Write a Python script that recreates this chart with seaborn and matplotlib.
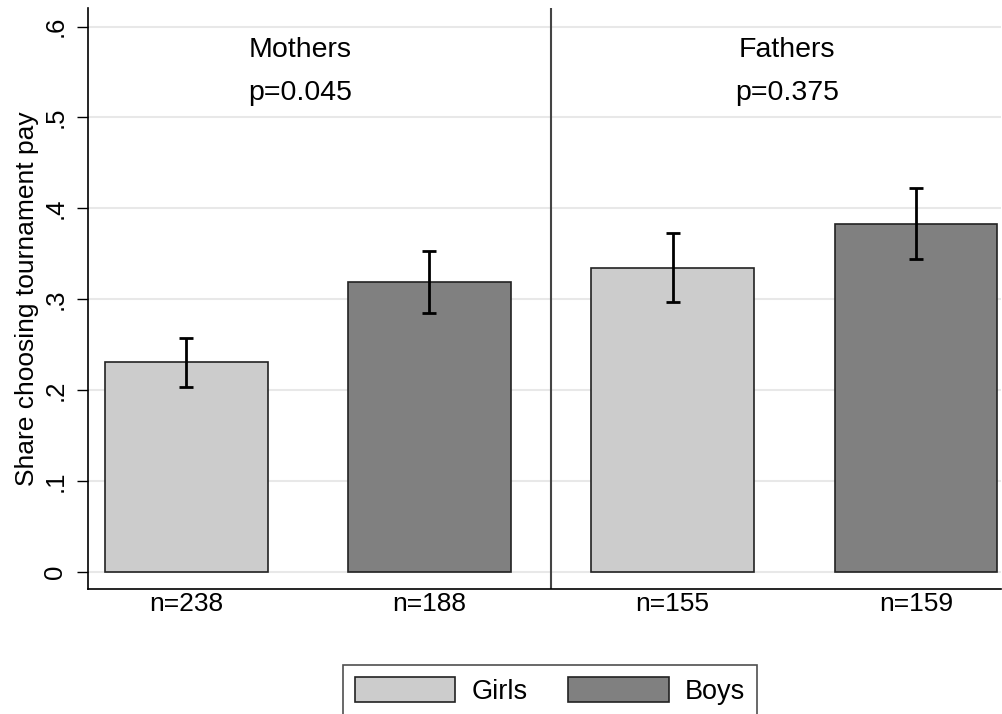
import numpy as np
import pandas as pd
import seaborn as sns
import matplotlib.pyplot as plt
from matplotlib.patches import Patch

# ---

# DATA

labels = ["n=238", "n=188", "n=155", "n=159"]
parent = ["Mothers", "Mothers", "Fathers", "Fathers"]
child = ["Girls", "Boys", "Girls", "Boys"]
share = [0.231, 0.319, 0.335, 0.383]
ci_low = [0.204, 0.285, 0.297, 0.344]
ci_high = [0.258, 0.353, 0.373, 0.422]
groups = ["Mothers", "Fathers"]
pvals = ["p=0.045", "p=0.375"]
yticks = [0, 0.1, 0.2, 0.3, 0.4, 0.5, 0.6]
ytick_labels = ["0", ".1", ".2", ".3", ".4", ".5", ".6"]

df = pd.DataFrame({"label": labels, "parent": parent, "child": child, "share": share})

# ---

# PLOT

sns.set_style("white")
plt.rcParams['font.family'] = ['Liberation Sans', 'DejaVu Sans']
plt.rcParams['text.color'] = 'black'
plt.rcParams['axes.labelcolor'] = 'black'
plt.rcParams['xtick.color'] = 'black'
plt.rcParams['ytick.color'] = 'black'

colors = {"Girls": "#cccccc", "Boys": "#808080"}

fig = plt.figure(figsize=(10.02, 7.14), dpi=100)
ax = fig.add_axes([0.088, 0.175, 0.911, 0.814])

sns.barplot(data=df, x="label", y="share", hue="child", palette=colors,
            order=labels, hue_order=["Girls", "Boys"], dodge=False,
            width=0.669, errorbar=None, edgecolor="#222222", linewidth=1.2,
            legend=False, ax=ax, zorder=2)

# error bars at the bar centres
centres = np.sort([p.get_x() + p.get_width() / 2 for p in ax.patches[:len(labels)]])
lo = np.array(share) - np.array(ci_low)
hi = np.array(ci_high) - np.array(share)
ax.errorbar(centres, share, yerr=[lo, hi], fmt="none", ecolor="black",
            elinewidth=2, capsize=4.8, capthick=2, zorder=3)

ax.set_xlim(-0.403, 3.35)
ax.set_ylim(-0.0184, 0.6205)
ax.set_yticks(yticks)
ax.set_yticklabels(ytick_labels, rotation=90, va="center", fontsize=18.5)
ax.tick_params(axis="y", length=8, width=1, color="black", left=True, pad=7)
ax.tick_params(axis="x", length=0, labelsize=19, pad=2)
ax.yaxis.grid(True, color="#e8e8e8", linewidth=1.5, zorder=0)
ax.set_axisbelow(True)

ax.set_xlabel("")
ax.set_ylabel("Share choosing tournament pay", fontsize=19, labelpad=3)

for side in ["top", "right"]:
    ax.spines[side].set_visible(False)
for side in ["left", "bottom"]:
    ax.spines[side].set_color("black")
    ax.spines[side].set_linewidth(1.2)

# divider between mothers and fathers
ax.axvline(1.5, color="#444444", linewidth=1.5, zorder=1)

# group titles (sit slightly left of the group centre, as in the original)
for i, (g, p) in enumerate(zip(groups, pvals)):
    xc = 2 * i + 0.5 - 0.03
    ax.text(xc, 0.574, g, ha="center", va="center", fontsize=20.5)
    ax.text(xc, 0.527, p, ha="center", va="center", fontsize=20.5)

# legend
handles = [Patch(facecolor=colors[c], edgecolor="#222222", linewidth=1.2) for c in ["Girls", "Boys"]]
leg = fig.legend(handles, ["Girls", "Boys"], loc="lower center", bbox_to_anchor=(0.549, -0.004),
                 ncol=2, fontsize=19.5, frameon=True, fancybox=False, edgecolor="#222222",
                 handlelength=3.7, handleheight=1.0, columnspacing=1.5, handletextpad=0.6,
                 borderpad=0.45, borderaxespad=0.0)
leg.get_frame().set_linewidth(1.2)

fig.savefig("out.png", dpi=100)
